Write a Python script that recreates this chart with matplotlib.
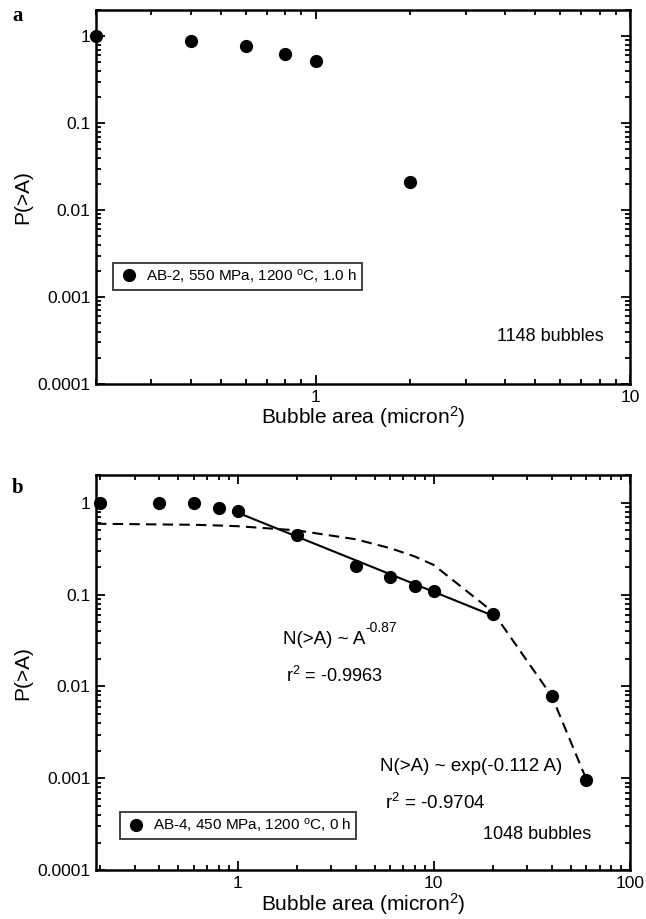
import numpy as np
import matplotlib
matplotlib.use("Agg")
import matplotlib.pyplot as plt
from matplotlib.ticker import LogLocator, NullFormatter, FuncFormatter

plt.rcParams['font.family'] = ['Liberation Sans', 'DejaVu Sans']
plt.rcParams['mathtext.fontset'] = 'custom'
plt.rcParams['mathtext.rm'] = 'Liberation Sans'
plt.rcParams['mathtext.it'] = 'Liberation Sans'
plt.rcParams['axes.unicode_minus'] = False

# panel a : AB-2
area_a = [0.2, 0.4, 0.6, 0.8, 1.0, 2.0]
prob_a = [1.0, 0.885, 0.77, 0.63, 0.52, 0.021]
label_a = "AB-2, 550 MPa, 1200 $^{\\rm o}$C, 1.0 h"

# panel b : AB-4
area_b = [0.2, 0.4, 0.6, 0.8, 1.0, 2.0, 4.0, 6.0, 8.0, 10.0, 20.0, 40.0, 60.0]
prob_b = [1.0, 1.0, 1.0, 0.87, 0.81, 0.44, 0.205, 0.155, 0.124, 0.11, 0.062, 0.0078, 0.00096]
label_b = "AB-4, 450 MPa, 1200 $^{\\rm o}$C, 0 h"

# power-law fit (solid) and exponential fit (dashed)
pow_x = [1.0, 20.0]
pow_y = [0.78, 0.059]
exp_x = [0.19, 0.4, 0.6, 0.8, 1.0, 2.0, 4.0, 6.0, 8.0, 10.0, 20.0, 40.0, 60.0]
exp_y = [0.59, 0.58, 0.575, 0.565, 0.555, 0.50, 0.40, 0.32, 0.26, 0.21, 0.065, 0.0078, 0.00097]

def dec_fmt(v, pos):
    return ("%f" % v).rstrip('0').rstrip('.')

def style_axis(ax, xmin, xmax):
    ax.set_xscale('log')
    ax.set_yscale('log')
    ax.set_xlim(xmin, xmax)
    ax.set_ylim(1e-4, 2.0)
    ax.xaxis.set_major_locator(LogLocator(base=10))
    ax.xaxis.set_minor_locator(LogLocator(base=10, subs=np.arange(2, 10)))
    ax.yaxis.set_major_locator(LogLocator(base=10))
    ax.yaxis.set_minor_locator(LogLocator(base=10, subs=np.arange(2, 10)))
    ax.xaxis.set_major_formatter(FuncFormatter(dec_fmt))
    ax.yaxis.set_major_formatter(FuncFormatter(dec_fmt))
    ax.xaxis.set_minor_formatter(NullFormatter())
    ax.yaxis.set_minor_formatter(NullFormatter())
    ax.tick_params(which='both', direction='in', top=True, right=True, width=1.3, labelsize=12.5)
    ax.tick_params(which='major', length=6.5, pad=4)
    ax.tick_params(which='minor', length=3.5)
    for s in ax.spines.values():
        s.set_linewidth(1.8)
    ax.set_xlabel("Bubble area (micron$^2$)", fontsize=15, labelpad=0)
    ax.set_ylabel("P(>A)", fontsize=15, labelpad=4)

fig = plt.figure(figsize=(6.46, 9.19), dpi=100)
ax1 = fig.add_axes([0.1486, 0.5822, 0.8266, 0.4069])
ax2 = fig.add_axes([0.1486, 0.0530, 0.8266, 0.4301])

# panel a
ax1.plot(area_a, prob_a, 'o', color='black', ms=8.5, clip_on=False, label=label_a)
style_axis(ax1, 0.2, 10)
ax1.legend(loc='upper left', bbox_to_anchor=(0.017, 0.345), frameon=True, fancybox=False,
           edgecolor='black', fontsize=11, handletextpad=0.4, borderpad=0.3,
           handlelength=1.5).get_frame().set_linewidth(1.3)
ax1.text(0.751, 0.126, "1148 bubbles", transform=ax1.transAxes, fontsize=13,
         ha='left', va='center')

# panel b
ax2.plot(pow_x, pow_y, '-', color='black', lw=1.5)
ax2.plot(exp_x, exp_y, '--', color='black', lw=1.5, dashes=(5, 3))
ax2.plot(area_b, prob_b, 'o', color='black', ms=8.5, clip_on=False, label=label_b)
style_axis(ax2, 0.19, 100)
ax2.legend(loc='upper left', bbox_to_anchor=(0.03, 0.1675), frameon=True, fancybox=False,
           edgecolor='black', fontsize=11, handletextpad=0.4, borderpad=0.3,
           handlelength=1.5).get_frame().set_linewidth(1.3)
t_pow = ax2.text(0.350, 0.585, "N(>A) ~ A", transform=ax2.transAxes, fontsize=13.5,
                 ha='left', va='center')
ax2.annotate("-0.87", xy=(1.0, 0.72), xycoords=t_pow, fontsize=10,
             ha='left', va='bottom')
ax2.text(0.356, 0.4925, "r$^2$ = -0.9963", transform=ax2.transAxes, fontsize=13,
         ha='left', va='center')
ax2.text(0.532, 0.2625, "N(>A) ~ exp(-0.112 A)", transform=ax2.transAxes, fontsize=13.5,
         ha='left', va='center')
ax2.text(0.541, 0.17, "r$^2$ = -0.9704", transform=ax2.transAxes, fontsize=13.5,
         ha='left', va='center')
ax2.text(0.725, 0.09, "1048 bubbles", transform=ax2.transAxes, fontsize=13,
         ha='left', va='center')

# panel letters
fig.text(12 / 646, 1 - 16 / 919, "a", fontsize=15, fontweight='bold',
         family=['Liberation Serif', 'DejaVu Serif'], ha='left', va='center')
fig.text(12 / 646, 1 - 488 / 919, "b", fontsize=15, fontweight='bold',
         family=['Liberation Serif', 'DejaVu Serif'], ha='left', va='center')

fig.savefig("out.png", dpi=100)
